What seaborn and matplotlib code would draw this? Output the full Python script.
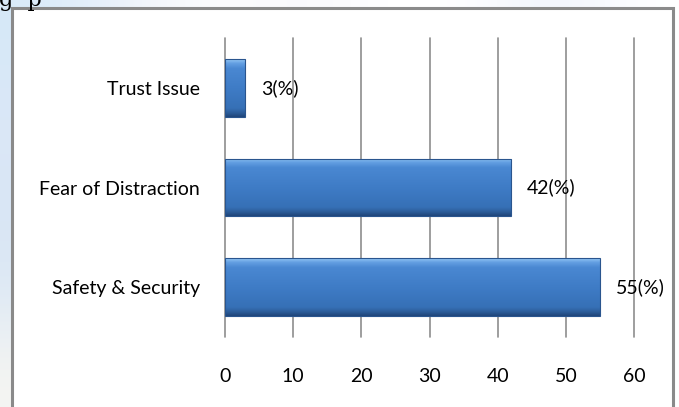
import numpy as np
import matplotlib
matplotlib.use("Agg")
import matplotlib.pyplot as plt
import seaborn as sns
import pandas as pd
from matplotlib.colors import LinearSegmentedColormap
from matplotlib.patches import Rectangle

# Survey results (percent of respondents)
categories = ["Trust Issue", "Fear of Distraction", "Safety & Security"]
values = [3, 42, 55]
x_ticks = [0, 10, 20, 30, 40, 50, 60]

sns.set_theme(style="white")
plt.rcParams['font.family'] = ['Lato', 'DejaVu Sans']

W, H = 679, 407
fig = plt.figure(figsize=(W / 100, H / 100), dpi=100)
fig.patch.set_facecolor("white")

# Page background behind the chart frame
bg = fig.add_axes([0, 0, 1, 1], zorder=-5)
bg.set_xlim(0, W)
bg.set_ylim(H, 0)
bg.axis("off")
strip = np.array([[[0.84, 0.91, 0.97]], [[0.86, 0.91, 0.97]], [[0.85, 0.90, 0.96]],
                  [[0.86, 0.91, 0.96]], [[0.96, 0.96, 0.95]]])
bg.imshow(strip, extent=(0, 14, H, 0), aspect="auto", interpolation="bicubic")
top = np.array([[[0.85, 0.92, 0.98], [0.93, 0.95, 0.98], [1, 1, 1], [0.97, 0.97, 0.99],
                 [1, 1, 1], [1, 1, 1], [0.93, 0.95, 0.99], [1, 1, 1]]])
bg.imshow(top, extent=(0, W, 9, 0), aspect="auto", interpolation="bicubic")
bg.text(-1, 6, "g  p", fontsize=16, family="DejaVu Serif", color="black",
        va="baseline", clip_on=True)
bg.add_patch(Rectangle((12, 8), 661, H + 10, facecolor="white",
                       edgecolor="#8a8a8a", lw=2.2))

# Chart area
ax = fig.add_axes([225 / W, 1 - 337 / H, 409 / W, 299 / H])
ax.patch.set_alpha(0)

df = pd.DataFrame({"category": categories, "value": values})
sns.barplot(data=df, x="value", y="category", orient="h", ax=ax,
            color="#3d7bc5", width=0.58, saturation=1, zorder=3)

# Bevelled shading on each bar
shade = LinearSegmentedColormap.from_list(
    "bevel", [(0.0, "#96c8f5"), (0.07, "#64a0e3"), (0.16, "#4a88d2"),
              (0.5, "#3f7cc6"), (0.85, "#3670b6"), (0.93, "#2c5c99"),
              (1.0, "#1f4478")])
grad = np.linspace(0, 1, 256).reshape(-1, 1)
for bar in ax.patches:
    x0, y0 = bar.get_x(), bar.get_y()
    w, h = bar.get_width(), bar.get_height()
    im = ax.imshow(grad, cmap=shade, extent=(x0, x0 + w, y0 + h, y0),
                   aspect="auto", zorder=4, interpolation="bicubic")
    im.set_clip_path(bar)
    bar.set_edgecolor("#2a558e")
    bar.set_linewidth(0.8)
    bar.set_zorder(5)
    bar.set_facecolor("none")

ax.set_xlim(0, 60)
ax.set_ylim(2.5, -0.5)
ax.set_xticks(x_ticks)
ax.set_xlabel("")
ax.set_ylabel("")
ax.xaxis.grid(True, color="#8e8e8e", lw=1.2)
ax.yaxis.grid(False)
for gl in ax.get_xgridlines():
    gl.set_clip_on(False)
for s in ax.spines.values():
    s.set_visible(False)
ax.tick_params(axis="x", length=0, pad=22, labelsize=14, colors="black")
ax.tick_params(axis="y", length=0, pad=18, labelsize=14, colors="black")

ax.bar_label(ax.containers[0], labels=[f"{v}(%)" for v in values],
             padding=11.5, fontsize=14, color="black")

fig.savefig("out.png", dpi=100)
